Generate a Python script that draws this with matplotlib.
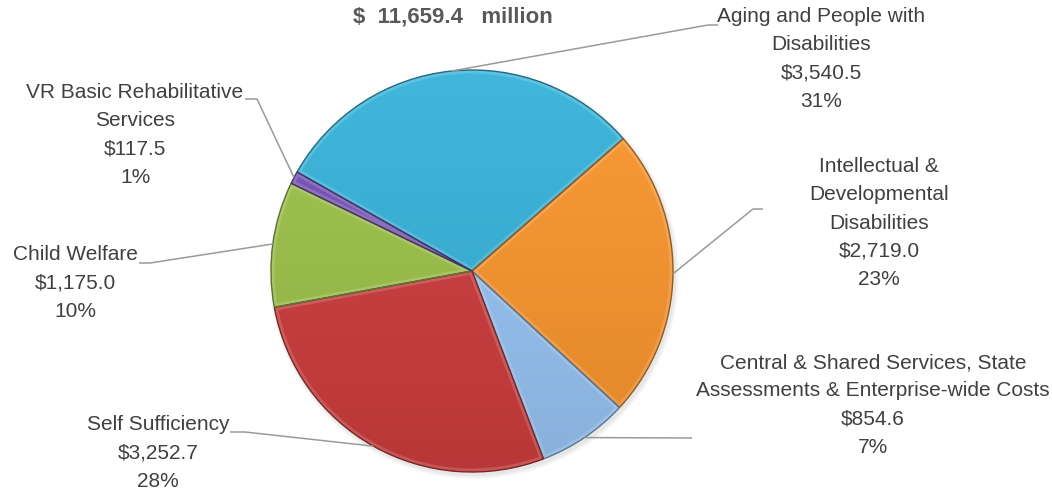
import matplotlib
matplotlib.use("Agg")
import matplotlib.pyplot as plt
import numpy as np
from matplotlib.colors import to_rgb
from matplotlib.patches import Wedge, Circle

# program budget, $ millions, in slice order (clockwise)
programs = [
    "Aging and People with\nDisabilities",
    "Intellectual &\nDevelopmental\nDisabilities",
    "Central & Shared Services, State\nAssessments & Enterprise-wide Costs",
    "Self Sufficiency",
    "Child Welfare",
    "VR Basic Rehabilitative\nServices",
]
spend = [3540.5, 2719.0, 854.6, 3252.7, 1175.0, 117.5]
pct_text = ["31%", "23%", "7%", "28%", "10%", "1%"]
total_text = "$  11,659.4   million"

colors = ["#37B3DA", "#FA962E", "#98C4F4", "#CE3D3E", "#9DC24A", "#7752B5"]

# layout in pixel units (y grows downward)
W, H = 1052, 494
CX, CY, R = 472, 271, 201
label_pos = [(821, 59), (879, 223), (873, 405), (158, 453), (75, 283), (135, 135)]
leader_pts = [
    [(708, 25), (718, 25)],
    [(753, 209), (763, 209)],
    [(692, 438)],
    [(245, 432), (230, 432)],
    [(150, 263), (139, 263)],
    [(257, 99), (245, 99)],
]

LABEL_FONT = ["Liberation Sans", "DejaVu Sans"]
TEXT_COLOR = "#404040"


def shade(color, f):
    c = np.array(to_rgb(color))
    if f >= 1:
        return tuple(c + (1 - c) * (f - 1))
    return tuple(c * f)


fig = plt.figure(figsize=(W / 100, H / 100), dpi=100)
ax = fig.add_axes([0, 0, 1, 1])

# soft shadow under the pie
for k, a in enumerate([0.05, 0.06, 0.08]):
    ax.add_patch(Circle((CX + 2, CY + 3), R + 4 - 1.5 * k, color="#808080",
                        alpha=a, lw=0, zorder=0))

wedges, _ = ax.pie(spend, colors=colors, startangle=209.5, counterclock=True,
                   center=(CX, CY), radius=R,
                   wedgeprops=dict(linewidth=0, zorder=1))

# vertical gradient + bevel rim on each slice
rows = np.linspace(0, 1, 256)[:, None]
for w, col in zip(wedges, colors):
    top, bot = np.array(shade(col, 1.05)), np.array(shade(col, 0.9))
    grad = top[None, None, :] * (1 - rows[..., None]) + bot[None, None, :] * rows[..., None]
    im = ax.imshow(grad, extent=(CX - R, CX + R, CY + R, CY - R), origin="upper",
                   aspect="auto", zorder=2, interpolation="bilinear")
    im.set_clip_path(w)
    rim = Wedge(w.center, w.r, w.theta1, w.theta2, facecolor="none",
                edgecolor="white", alpha=0.16, lw=5, zorder=3)
    ax.add_patch(rim)
    rim.set_clip_path(w)
    ax.add_patch(Wedge(w.center, w.r, w.theta1, w.theta2, facecolor="none",
                       edgecolor=shade(col, 0.6), lw=1.0, zorder=4))

# leader lines from slice midpoints, then labels
for w, pts, (lx, ly), name, val, pct in zip(wedges, leader_pts, label_pos,
                                            programs, spend, pct_text):
    mid = np.deg2rad((w.theta1 + w.theta2) / 2)
    ax0 = (CX + R * np.cos(mid), CY + R * np.sin(mid))
    xs, ys = zip(*([ax0] + pts))
    ax.plot(xs, ys, color="#9a9a9a", lw=1.1, zorder=5, solid_capstyle="butt")
    ax.text(lx, ly, f"{name}\n${val:,.1f}\n{pct}", ha="center", va="center",
            multialignment="center", fontsize=15, family=LABEL_FONT,
            color=TEXT_COLOR, linespacing=1.62, zorder=6)

ax.text(453, 17, total_text, ha="center", va="center", fontsize=16,
        fontweight="bold", family=LABEL_FONT, color="#595959")

ax.set_xlim(0, W)
ax.set_ylim(H, 0)
ax.set_aspect("equal")
ax.axis("off")

fig.savefig("out.png", dpi=100, facecolor="white")
